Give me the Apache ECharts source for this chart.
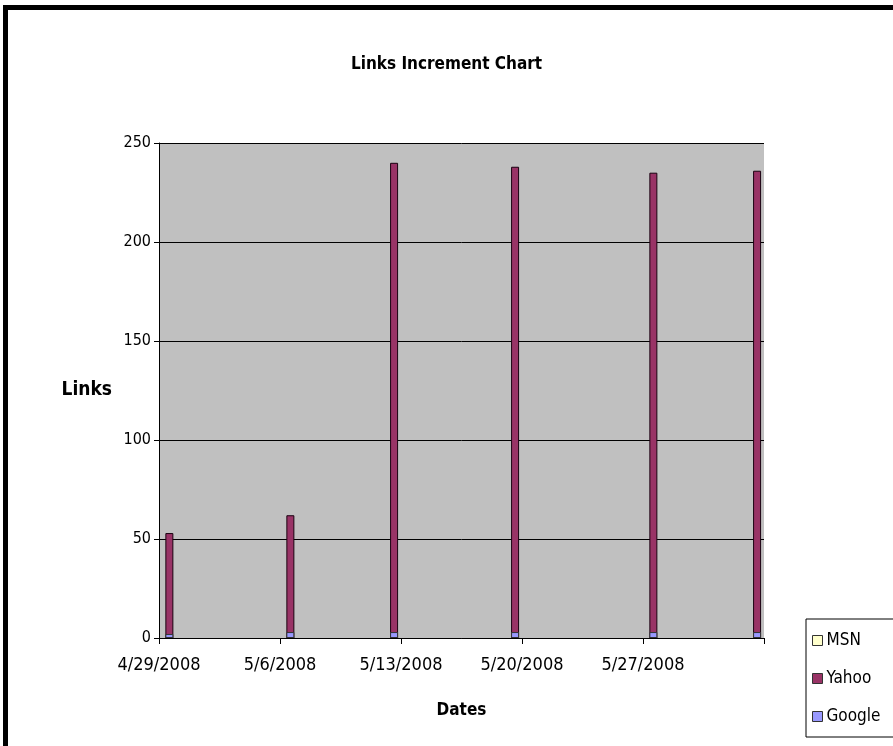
<!DOCTYPE html>
<html>
<head>
<meta charset="utf-8">
<script src="https://cdn.jsdelivr.net/npm/echarts@6/dist/echarts.min.js"></script>
<style>
  html, body { margin: 0; padding: 0; background: #ffffff; }
  #frame { position: absolute; left: 0; top: 0; width: 893px; height: 746px; box-sizing: border-box; border-left: 5px solid #000; border-top: 5px solid #000; margin-left: 3px; margin-top: 5px; }
  #chart { position: absolute; left: 0; top: 0; width: 893px; height: 746px; }
</style>
</head>
<body>
<div id="frame"></div>
<div id="chart"></div>
<script>
// Data
var dates = ['2008-04-29', '2008-05-06', '2008-05-12', '2008-05-19', '2008-05-27', '2008-06-02'];
var msn = [0, 0, 0, 0, 0, 0];
var yahoo = [53, 62, 240, 238, 235, 236];
var google = [2, 3, 3, 3, 3, 3];
var axisStart = '2008-04-29';
var tickLabels = ['4/29/2008', '5/6/2008', '5/13/2008', '5/20/2008', '5/27/2008', ''];

var FONT = "'DejaVu Sans Condensed', 'Liberation Sans Narrow', 'Liberation Sans', Arial, sans-serif";
var DAY = 86400000;
function dayIndex(d) { return (Date.parse(d) - Date.parse(axisStart)) / DAY; }
// Excel date axis: each column sits in the middle of its day slot
function pts(vals) { return dates.map(function (d, i) { return [dayIndex(d) + 0.6, vals[i]]; }); }

var chart = echarts.init(document.getElementById('chart'), null, { renderer: 'canvas' });
chart.setOption({
  animation: false,
  backgroundColor: 'transparent',
  title: {
    text: 'Links Increment Chart',
    left: 'center',
    top: 51,
    textStyle: { fontFamily: FONT, fontSize: 17, fontWeight: 'bold', color: '#000' }
  },
  legend: {
    orient: 'vertical',
    left: 806,
    top: 619,
    itemWidth: 10,
    itemHeight: 10,
    itemGap: 21,
    padding: [13, 30, 12, 6],
    borderColor: '#000',
    borderWidth: 1,
    backgroundColor: '#fff',
    icon: 'rect',
    textStyle: { fontFamily: FONT, fontSize: 17, lineHeight: 17, color: '#000', padding: [0, 0, 0, -1] },
    data: [
      { name: 'MSN', itemStyle: { color: '#FFFFCC', borderColor: '#333', borderWidth: 1 } },
      { name: 'Yahoo', itemStyle: { color: '#993366', borderColor: '#333', borderWidth: 1 } },
      { name: 'Google', itemStyle: { color: '#9999FF', borderColor: '#333', borderWidth: 1 } }
    ]
  },
  grid: { left: 159, right: 129, top: 143, bottom: 108, backgroundColor: '#C0C0C0', show: true, borderColor: '#C0C0C0', borderWidth: 0 },
  xAxis: {
    type: 'value',
    min: 0,
    max: 35,
    interval: 7,
    name: 'Dates',
    nameLocation: 'middle',
    nameGap: 64,
    nameTextStyle: { fontFamily: FONT, fontSize: 17, fontWeight: 'bold', color: '#000' },
    axisLine: { show: true, lineStyle: { color: '#000', width: 1 } },
    axisTick: { show: true, length: 6, lineStyle: { color: '#000' } },
    axisLabel: {
      fontFamily: FONT, fontSize: 18, color: '#000', margin: 18,
      formatter: function (v) { return tickLabels[Math.round(v / 7)] || ''; }
    },
    splitLine: { show: false }
  },
  yAxis: {
    type: 'value',
    min: 0,
    max: 250,
    interval: 50,
    name: 'Links',
    nameLocation: 'middle',
    nameRotate: 0,
    nameGap: 47,
    nameTextStyle: { fontFamily: FONT, fontSize: 19, fontWeight: 'bold', color: '#000', align: 'right' },
    axisLine: { show: true, lineStyle: { color: '#000', width: 1 } },
    axisTick: { show: true, length: 5, lineStyle: { color: '#000' } },
    axisLabel: { fontFamily: FONT, fontSize: 16, color: '#000', margin: 8 },
    splitLine: { show: true, lineStyle: { color: '#000', width: 1 } }
  },
  series: [
    { name: 'MSN', type: 'bar', data: pts(msn), barWidth: 8, barGap: '-100%',
      itemStyle: { color: '#FFFFCC', borderColor: '#000', borderWidth: 1 } },
    { name: 'Yahoo', type: 'bar', data: pts(yahoo), barWidth: 8, barGap: '-100%',
      itemStyle: { color: '#993366', borderColor: '#1a0010', borderWidth: 1 } },
    { name: 'Google', type: 'bar', data: pts(google), barWidth: 8, barGap: '-100%',
      itemStyle: { color: '#9999FF', borderColor: '#333', borderWidth: 1 } }
  ]
});
</script>
</body>
</html>
